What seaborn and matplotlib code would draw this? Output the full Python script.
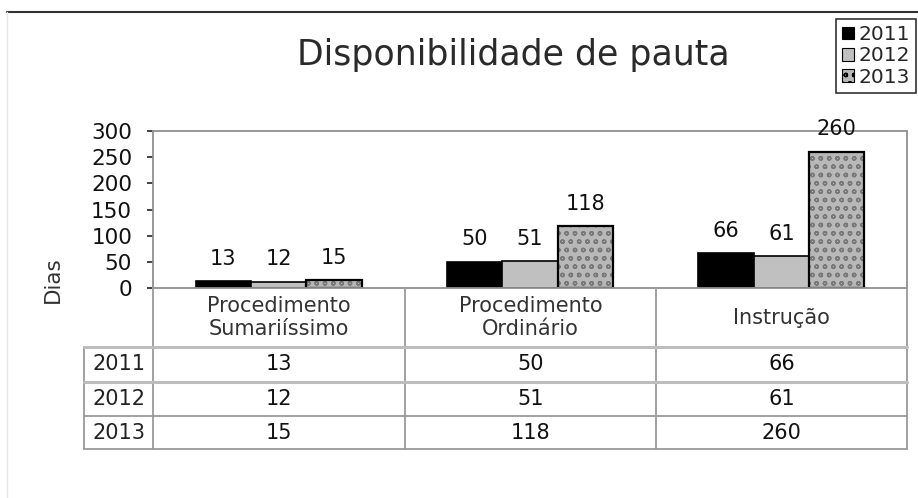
import matplotlib
matplotlib.use("Agg")
import matplotlib.pyplot as plt
from matplotlib.lines import Line2D
from matplotlib.patches import Rectangle, Patch
import seaborn as sns
import pandas as pd

categories = ["Procedimento\nSumariíssimo", "Procedimento\nOrdinário", "Instrução"]
years = ["2011", "2012", "2013"]
v2011 = [13, 50, 66]
v2012 = [12, 51, 61]
v2013 = [15, 118, 260]
yticks = [0, 50, 100, 150, 200, 250, 300]

values = {"2011": v2011, "2012": v2012, "2013": v2013}
df = pd.DataFrame([(c, y, v) for y in years for c, v in zip(categories, values[y])],
                  columns=["categoria", "ano", "dias"])

sns.set_theme(style="white")
plt.rcParams["font.family"] = ["DejaVu Sans"]
plt.rcParams["hatch.linewidth"] = 1.0

W, H = 918, 498
fig = plt.figure(figsize=(W / 100, H / 100), dpi=100)
fig.patch.set_facecolor("white")

def fx(px):
    return px / W

def fy(py):
    return 1 - py / H

L, R, T, B = 153, 907, 131, 288
ax = fig.add_axes([fx(L), fy(B), fx(R) - fx(L), fy(T) - fy(B)])

palette = {"2011": "#000000", "2012": "#c0c0c0", "2013": "#b8b8b8"}
sns.barplot(data=df, x="categoria", y="dias", hue="ano", hue_order=years,
            order=categories, palette=palette, width=0.66, gap=0,
            edgecolor="black", linewidth=1.2, ax=ax, legend=False,
            saturation=1, errorbar=None)

# textured 2013 bars: hatch in grey, then black outline
tex_cont = ax.containers[2]
for p in tex_cont:
    p.set_hatch("oo")
    p.set_edgecolor("#787878")
    p.set_linewidth(0)
    ax.add_patch(Rectangle(p.get_xy(), p.get_width(), p.get_height(),
                           fill=False, edgecolor="black", linewidth=1.6,
                           zorder=p.get_zorder() + 0.1))

for cont in ax.containers:
    ax.bar_label(cont, padding=9, fontsize=15, color="#111111")

ax.set_ylim(0, 300)
ax.set_xlim(-0.5, 2.5)
ax.set_yticks(yticks)
ax.set_yticklabels([str(t) for t in yticks], fontsize=15.5, color="#111111")
ax.set_xticks([])
ax.set_xlabel("")
ax.set_ylabel("")
for s in ax.spines.values():
    s.set_color("#909090")
    s.set_linewidth(1.3)
ax.tick_params(axis="y", which="both", left=True, length=4, width=1.2,
               color="#222222", pad=11)

fig.text(fx(53), fy(280), "Dias", rotation=90, ha="center", va="center",
         fontsize=15.5, color="#333333")

fig.text(fx(513), fy(55), "Disponibilidade de pauta", ha="center", va="center",
         fontsize=25, color="#2a2a2a")

# legend
handles = [Patch(facecolor="#000000", edgecolor="black", linewidth=0.8),
           Patch(facecolor="#c0c0c0", edgecolor="black", linewidth=0.8),
           Patch(facecolor="#b8b8b8", edgecolor="black", linewidth=0.8, hatch="oo")]
leg = fig.legend(handles, years, loc="upper right", bbox_to_anchor=(fx(916), fy(19)),
                 frameon=True, fancybox=False, fontsize=14.5, handlelength=0.6,
                 handleheight=0.6, handletextpad=0.2, borderpad=0.3,
                 labelspacing=0.12, borderaxespad=0)
leg.get_frame().set_edgecolor("black")
leg.get_frame().set_linewidth(1.2)

# frame lines of the picture
fig.add_artist(Line2D([fx(7), 1], [fy(12), fy(12)], color="#333333", linewidth=1.5))
fig.add_artist(Line2D([fx(7), fx(7)], [fy(12), 0], color="#e6e6e6", linewidth=1))

# data table
cols = [153, 405, 656, 907]
rows = [288, 347, 382, 416, 449]
lab_left = 84
gc = "#9a9a9a"
for x in cols:
    fig.add_artist(Line2D([fx(x), fx(x)], [fy(rows[0]), fy(rows[-1])], color=gc, linewidth=1.3))
fig.add_artist(Line2D([fx(lab_left), fx(lab_left)], [fy(rows[1]), fy(rows[-1])], color=gc, linewidth=1.3))
for i, y in enumerate(rows[1:]):
    lw = 2.2 if i in (0, 1) else 1.3
    col = "#bdbdbd" if i in (0, 1) else gc
    fig.add_artist(Line2D([fx(lab_left), fx(cols[-1])], [fy(y), fy(y)], color=col, linewidth=lw))

for j, c in enumerate(categories):
    xc = (cols[j] + cols[j + 1]) / 2
    fig.text(fx(xc), fy((rows[0] + rows[1]) / 2), c, ha="center", va="center",
             fontsize=15, color="#333333", linespacing=1.15)

for i, y in enumerate(years):
    yc = (rows[i + 1] + rows[i + 2]) / 2
    fig.text(fx((lab_left + cols[0]) / 2), fy(yc), y, ha="center", va="center",
             fontsize=15, color="#222222")
    for j, v in enumerate(values[y]):
        xc = (cols[j] + cols[j + 1]) / 2
        fig.text(fx(xc), fy(yc), str(v), ha="center", va="center",
                 fontsize=15, color="#111111")

fig.savefig("out.png", dpi=100, facecolor="white")
